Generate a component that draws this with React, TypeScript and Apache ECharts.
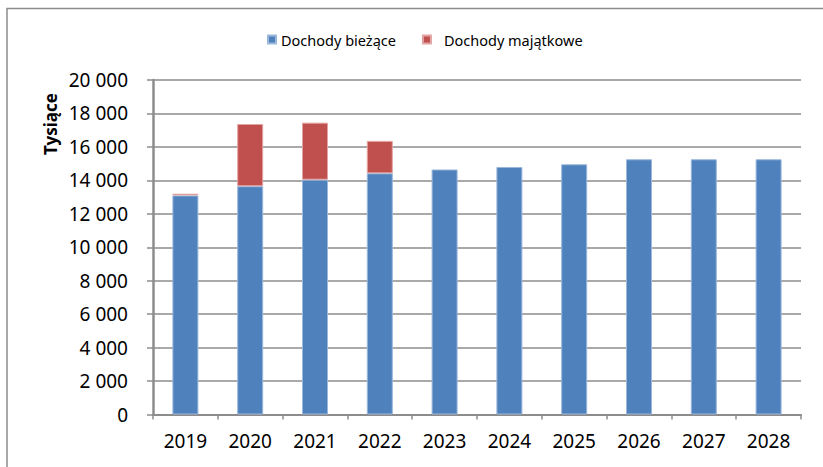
import React, { useEffect, useRef } from "react";
import * as echarts from "echarts";

const categories = ["2019", "2020", "2021", "2022", "2023", "2024", "2025", "2026", "2027", "2028"];
const biezace = [13100, 13650, 14040, 14420, 14650, 14800, 14960, 15260, 15260, 15260];
const majatkowe = [100, 3720, 3410, 1940, null, null, null, null, null, null];
const seriesNames = ["Dochody bieżące", "Dochody majątkowe"];
const yTitle = "Tysiące";

const fmt = (v: number) => String(v).replace(/\B(?=(\d{3})+(?!\d))/g, " ");

export default function App() {
  const ref = useRef<HTMLDivElement>(null);
  useEffect(() => {
    if (!ref.current) return;
    const chart = echarts.init(ref.current, null, { renderer: "svg" });
    const font = "'Noto Sans', sans-serif";
    chart.setOption({
      animation: false,
      backgroundColor: "#ffffff",
      textStyle: { fontFamily: font },
      graphic: [
        {
          type: "rect",
          shape: { x: 7, y: 8.5, width: 900, height: 600 },
          style: { fill: "none", stroke: "#8c8c8c", lineWidth: 1.5 },
          silent: true,
        },
        {
          type: "text",
          x: 50,
          y: 124,
          rotation: Math.PI / 2,
          style: {
            text: yTitle,
            font: `bold 17px ${font}`,
            fill: "#000",
            textAlign: "center",
            textVerticalAlign: "middle",
          },
        },
      ],
      legend: {
        left: 262,
        top: 27,
        itemWidth: 8,
        itemHeight: 8,
        itemGap: 26,
        icon: "rect",
        textStyle: { fontSize: 14.5, color: "#000", fontFamily: font },
        data: [
          { name: seriesNames[0] },
          { name: seriesNames[1], textStyle: { padding: [0, 0, 0, 8] } },
        ],
      },
      grid: { left: 153, right: 22, top: 80, bottom: 52.5 },
      xAxis: {
        type: "category",
        data: categories,
        axisLine: { lineStyle: { color: "#8c8c8c", width: 2 } },
        axisTick: { show: true, length: 5, lineStyle: { color: "#8c8c8c", width: 1.5 } },
        axisLabel: { fontSize: 19, color: "#000", margin: 17, fontFamily: font },
      },
      yAxis: {
        type: "value",
        min: 0,
        max: 20000,
        interval: 2000,
        axisLine: { show: true, lineStyle: { color: "#8c8c8c", width: 2.5 } },
        axisTick: { show: true, length: 6, lineStyle: { color: "#8c8c8c", width: 1.5 } },
        splitLine: { lineStyle: { color: "#8c8c8c", width: 1.5 } },
        axisLabel: { fontSize: 19, color: "#000", margin: 25, fontFamily: font, formatter: (v: number) => fmt(v) },
      },
      series: [
        {
          name: seriesNames[0],
          type: "bar",
          stack: "total",
          barWidth: 26,
          data: biezace,
          itemStyle: { color: "#4F81BD", borderColor: "#9bb7dc", borderWidth: 1 },
        },
        {
          name: seriesNames[1],
          type: "bar",
          stack: "total",
          barWidth: 26,
          data: majatkowe,
          itemStyle: { color: "#C0504D", borderColor: "#e2a4a2", borderWidth: 1 },
        },
      ],
    });
    return () => chart.dispose();
  }, []);
  return (
    <div
      ref={ref}
      style={{ position: "fixed", left: 0, top: 0, width: 823, height: 467 }}
    />
  );
}
